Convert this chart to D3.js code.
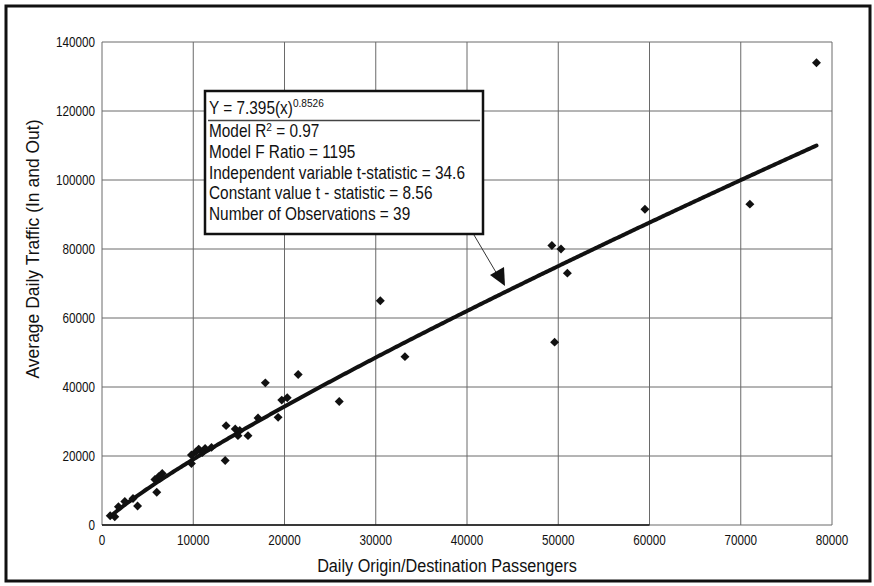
<!DOCTYPE html>
<html><head><meta charset="utf-8">
<script src="https://cdn.jsdelivr.net/npm/d3@7"></script>
<style>
body{margin:0;background:#fff;}
svg text{font-family:"Liberation Sans","Arial",sans-serif;fill:#111;}
</style></head><body>
<svg id="c" width="874" height="586"></svg>
<script>
// ---- data ----
const passengers = [78300,71000,59500,49300,50300,51000,49600,30500,33200,26000,21500,17900,19300,19700,20300,17100,16000,14600,15100,14900,13600,13500,12000,11300,10600,10300,9800,9800,6600,6200,6000,3900,3400,2500,1800,900,1400,5800,11000];
const traffic    = [134000,93000,91500,81000,80000,73000,53000,65000,48800,35800,43600,41200,31200,36200,36900,31000,25900,27800,27400,25900,28800,18700,22500,22200,22000,21200,20300,17800,14900,14000,9500,5500,7700,6800,5300,2700,2400,13200,21000];
const xTicks = [0,10000,20000,30000,40000,50000,60000,70000,80000];
const yTicks = [0,20000,40000,60000,80000,100000,120000,140000];
const fitCoef = 7.395, fitExp = 0.8526, fitXRange = [900, 78300];
const statLines = ["Model R|2| = 0.97","Model F Ratio = 1195","Independent variable t-statistic = 34.6","Constant value t - statistic = 8.56","Number of Observations = 39"];
const xTitle = "Daily Origin/Destination Passengers";
const yTitle = "Average Daily Traffic (In and Out)";

const svg = d3.select("#c");
svg.append("rect").attr("x",6).attr("y",6).attr("width",864).attr("height",575)
  .attr("fill","#fff").attr("stroke","#111").attr("stroke-width",3);

const x = d3.scaleLinear().domain([0,80000]).range([102,832]);
const y = d3.scaleLinear().domain([0,140000]).range([525,42]);

// grid
const g = svg.append("g");
g.selectAll(".vg").data(xTicks).join("line")
  .attr("x1",d=>x(d)).attr("x2",d=>x(d)).attr("y1",y(0)).attr("y2",y(140000))
  .attr("stroke","#6a6a6a").attr("stroke-width",1);
g.selectAll(".hg").data(yTicks).join("line")
  .attr("x1",x(0)).attr("x2",x(80000)).attr("y1",d=>y(d)).attr("y2",d=>y(d))
  .attr("stroke","#6a6a6a").attr("stroke-width",1);
g.append("line").attr("x1",x(0)).attr("x2",x(60000)).attr("y1",y(0)).attr("y2",y(0)).attr("stroke","#111").attr("stroke-width",1.5);

const K = 0.78; // horizontal condensing of the narrow typeface
// tick labels
svg.append("g").selectAll("text").data(xTicks).join("text")
  .attr("transform",d=>`translate(${x(d)},545) scale(${K},1)`).attr("text-anchor","middle")
  .attr("font-size",15).text(d=>d);
svg.append("g").selectAll("text").data(yTicks).join("text")
  .attr("transform",d=>`translate(95,${y(d)+5}) scale(${K},1)`).attr("text-anchor","end")
  .attr("font-size",15).text(d=>d);

// axis titles
const xt = svg.append("text").attr("text-anchor","middle").attr("font-size",18.5).text(xTitle);
const xk = 260 / xt.node().getComputedTextLength();
xt.attr("transform",`translate(447,572) scale(${xk},1)`);
svg.append("text").attr("transform","translate(39,249) rotate(-90)").attr("text-anchor","middle")
  .attr("font-size",17.5).text(yTitle);

// fit line
const fx = d3.range(fitXRange[0], fitXRange[1]+1, 200);
const line = d3.line().x(d=>x(d)).y(d=>y(fitCoef*Math.pow(d,fitExp)));
svg.append("path").datum(fx).attr("d",line).attr("fill","none")
  .attr("stroke","#111").attr("stroke-width",4).attr("stroke-linecap","round");

// points
const sym = d3.symbol().type(d3.symbolSquare).size(40);
svg.append("g").selectAll("path").data(passengers.map((p,i)=>[p,traffic[i]])).join("path")
  .attr("d",sym).attr("fill","#111")
  .attr("transform",d=>`translate(${x(d[0])},${y(d[1])}) rotate(45)`);

// arrow
svg.append("line").attr("x1",474).attr("y1",235).attr("x2",497).attr("y2",274)
  .attr("stroke","#333").attr("stroke-width",1);
svg.append("path").attr("d","M490,275 L504,267 L505,286 Z").attr("fill","#111");

// annotation box
svg.append("rect").attr("x",205).attr("y",91).attr("width",278).attr("height",143)
  .attr("fill","#fff").attr("stroke","#111").attr("stroke-width",2.5);
svg.append("line").attr("x1",208).attr("x2",480).attr("y1",120.5).attr("y2",120.5)
  .attr("stroke","#444").attr("stroke-width",1.5);
const box = svg.append("g");
const t0 = box.append("text").attr("font-size",17.5).attr("data-y",114);
t0.append("tspan").text("Y = 7.395(x)");
t0.append("tspan").attr("dy",-7).attr("font-size",11.5).text("0.8526");
statLines.forEach((s,i)=>{
  const t = box.append("text").attr("font-size",17.5).attr("data-y",137+i*20.8);
  const parts = s.split("|");
  t.append("tspan").text(parts[0]);
  if(parts.length>1){
    t.append("tspan").attr("dy",-6).attr("font-size",11.5).text(parts[1]);
    t.append("tspan").attr("dy",6).text(parts[2]);
  }
});
const widest = d3.max(box.selectAll("text").nodes(), n=>n.getComputedTextLength());
const kb = 256 / widest;
box.selectAll("text").attr("transform",function(){return `translate(209,${this.getAttribute("data-y")}) scale(${kb},1)`;});
</script></body></html>
